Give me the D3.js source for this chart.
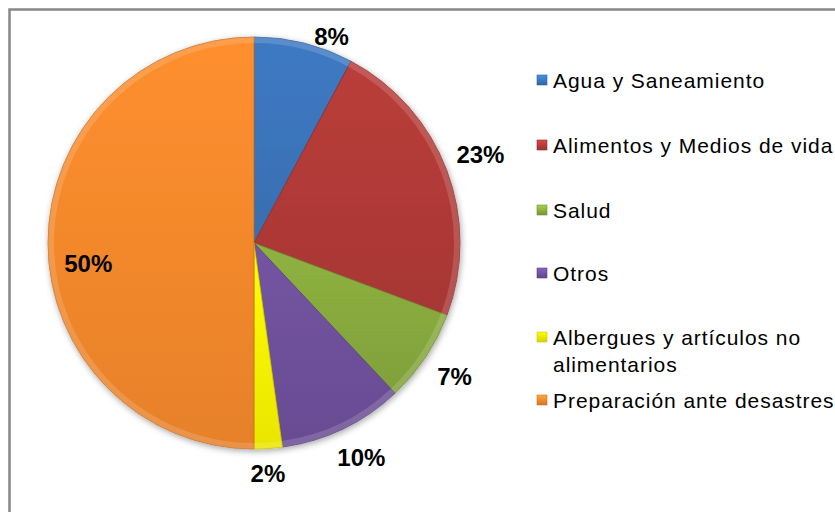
<!DOCTYPE html>
<html>
<head>
<meta charset="utf-8">
<script src="https://cdn.jsdelivr.net/npm/d3@7"></script>
<style>
  body { margin: 0; background: #fff; }
  svg { display: block; }
</style>
</head>
<body>
<div id="chart"></div>
<script>
// Data (share of total, %)
const categories = ["Agua y Saneamiento", "Alimentos y Medios de vida", "Salud", "Otros", "Albergues y artículos no alimentarios", "Preparación ante desastres"];
const values = [7.8, 22.9, 7.3, 9.8, 2.2, 50.0];
const labels = ["8%", "23%", "7%", "10%", "2%", "50%"];
const legendLines = [["Agua y Saneamiento"], ["Alimentos y Medios de vida"], ["Salud"], ["Otros"], ["Albergues y artículos no", "alimentarios"], ["Preparación ante desastres"]];
const colors = ["#3b74ba", "#b03a37", "#87a93d", "#6e509a", "#f7f200", "#f3882c"];

const width = 835, height = 512;
const cx = 254, cy = 243, radius = 206;

// label placement (radius from centre, angle nudge in degrees) - roughly Excel's best fit
const labelRadius = [221, 243, 241, 240, 231, 167];
const labelNudge = [6.5, -0.6, 0, -1, 0.5, -7];
// legend row centres
const legendY = [80, 145, 210, 273, 337, 400];

const svg = d3.select("#chart").append("svg")
    .attr("width", width)
    .attr("height", height);

const defs = svg.append("defs");
const shadow = defs.append("filter").attr("id", "shadow")
    .attr("x", "-20%").attr("y", "-20%").attr("width", "140%").attr("height", "140%");
shadow.append("feDropShadow")
    .attr("dx", 1).attr("dy", 2).attr("stdDeviation", 3)
    .attr("flood-color", "#000").attr("flood-opacity", 0.35);

// light gradient per colour to hint at the bevel look
colors.forEach((c, i) => {
    const g = defs.append("linearGradient").attr("id", "grad" + i)
        .attr("x1", 0).attr("y1", 0).attr("x2", 0).attr("y2", 1);
    g.append("stop").attr("offset", "0%").attr("stop-color", d3.color(c).brighter(0.15));
    g.append("stop").attr("offset", "100%").attr("stop-color", d3.color(c).darker(0.15));
    const lg = defs.append("linearGradient").attr("id", "leg" + i)
        .attr("x1", 0).attr("y1", 0).attr("x2", 0).attr("y2", 1);
    lg.append("stop").attr("offset", "0%").attr("stop-color", d3.color(c).brighter(0.6));
    lg.append("stop").attr("offset", "100%").attr("stop-color", d3.color(c).darker(0.4));
});

// chart frame
svg.append("rect")
    .attr("x", 9.5).attr("y", 9.5)
    .attr("width", 900).attr("height", 600)
    .attr("fill", "none")
    .attr("stroke", "#878787")
    .attr("stroke-width", 2.5);

const data = categories.map((c, i) => ({ key: c, value: values[i], label: labels[i], i: i }));

const pie = d3.pie().sort(null).value(d => d.value);
const arcs = pie(data);

const arc = d3.arc().innerRadius(0).outerRadius(radius);
const rim = d3.arc().innerRadius(radius - 6).outerRadius(radius);

const g = svg.append("g").attr("transform", `translate(${cx},${cy})`);

g.append("g").attr("filter", "url(#shadow)")
  .selectAll("path")
  .data(arcs)
  .enter()
  .append("path")
    .attr("d", arc)
    .attr("fill", d => `url(#grad${d.index})`)
    .attr("stroke", d => d3.color(colors[d.index]).darker(0.6))
    .attr("stroke-width", 0.8);

// soft highlight along the rim
g.selectAll("path.rim")
  .data(arcs)
  .enter()
  .append("path")
    .attr("class", "rim")
    .attr("d", rim)
    .attr("fill", "#fff")
    .attr("opacity", 0.15);

// percentage labels
g.selectAll("text.pct")
  .data(arcs)
  .enter()
  .append("text")
    .attr("class", "pct")
    .attr("transform", d => {
        const a = (d.startAngle + d.endAngle) / 2 + labelNudge[d.index] * Math.PI / 180;
        const r = labelRadius[d.index];
        return `translate(${r * Math.sin(a)},${-r * Math.cos(a)})`;
    })
    .attr("text-anchor", "middle")
    .attr("dominant-baseline", "central")
    .style("font-family", "'Liberation Sans', Arial, sans-serif")
    .style("font-weight", "bold")
    .style("font-size", "24px")
    .attr("fill", "#000")
    .text(d => d.data.label);

// legend
const legend = svg.append("g");
const item = legend.selectAll("g")
  .data(data)
  .enter()
  .append("g")
    .attr("transform", (d, i) => `translate(537,${legendY[i]})`);

item.append("rect")
    .attr("x", 0).attr("y", -5)
    .attr("width", 10).attr("height", 10)
    .attr("fill", d => `url(#leg${d.i})`)
    .attr("stroke", d => d3.color(colors[d.i]).darker(0.5))
    .attr("stroke-width", 0.6);

item.each(function(d) {
    const t = d3.select(this).append("text")
        .attr("x", 16)
        .attr("dominant-baseline", "central")
        .style("font-family", "'Liberation Sans', Arial, sans-serif")
        .style("font-size", "21px")
        .style("letter-spacing", "0.95px")
        .attr("fill", "#000");
    legendLines[d.i].forEach((line, k) => {
        t.append("tspan").attr("x", 16).attr("y", k * 27).text(line);
    });
});
</script>
</body>
</html>
